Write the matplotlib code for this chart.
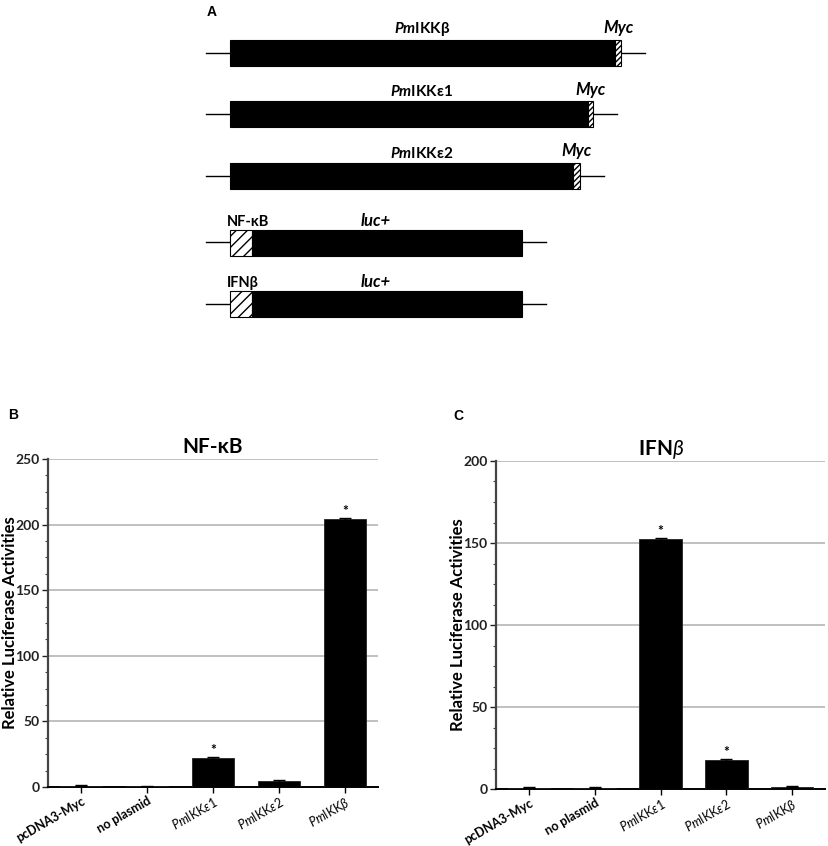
import matplotlib
matplotlib.use('Agg')
import matplotlib.pyplot as plt
from matplotlib.patches import Rectangle
from matplotlib.ticker import MultipleLocator
import numpy as np

plt.rcParams['font.family'] = ['Lato', 'DejaVu Sans']
plt.rcParams['mathtext.fontset'] = 'custom'
plt.rcParams['mathtext.it'] = 'Lato:italic'
plt.rcParams['mathtext.bfit'] = 'Lato:italic:bold'
plt.rcParams['mathtext.rm'] = 'Lato'

# panel A: constructs (lengths in drawing units)
orf_names = [r'$\mathbfit{Pm}$IKKβ', r'$\mathbfit{Pm}$IKKε1', r'$\mathbfit{Pm}$IKKε2']
orf_len = [385, 358, 343]
myc_len = [6, 5, 7]
reporter_names = ['NF-κB', 'IFNβ']
promoter_len = [22, 22]
luc_len = [270, 270]
flank = 24

# panels B and C
groups = ['pcDNA3-Myc', 'no plasmid', r'$\mathit{Pm}$IKK$\varepsilon$1',
          r'$\mathit{Pm}$IKK$\varepsilon$2', r'$\mathit{Pm}$IKK$\beta$']
nfkb_vals = [1.0, 0.4, 22.0, 4.6, 204.0]
nfkb_err = [0.3, 0.3, 0.6, 0.5, 0.7]
nfkb_sig = [False, False, True, False, True]
ifnb_vals = [0.8, 0.8, 152.5, 17.6, 1.5]
ifnb_err = [0.3, 0.3, 0.6, 0.5, 0.3]
ifnb_sig = [False, False, True, True, False]

fig = plt.figure(figsize=(8.29, 8.46), dpi=100)

# ---- panel A ----
axA = fig.add_axes([0, 1 - 340 / 846, 1, 340 / 846])
axA.set_xlim(0, 829)
axA.set_ylim(340, 0)
axA.axis('off')
x0 = 230
row_y = 53
row_gap = 61.5
box_h = 26
for i in range(len(orf_names)):
    y = row_y + i * row_gap
    end = x0 + orf_len[i] + myc_len[i]
    axA.plot([x0 - flank, end + flank], [y, y], color='black', lw=1, zorder=1)
    axA.add_patch(Rectangle((x0, y - box_h / 2), orf_len[i], box_h, fc='black', ec='black', lw=0.8, zorder=2))
    axA.add_patch(Rectangle((x0 + orf_len[i], y - box_h / 2), myc_len[i], box_h, fc='white', ec='black',
                            lw=0.8, hatch='//////', zorder=2))
    axA.text(422, y - box_h / 2 - 2, orf_names[i], ha='center', va='bottom', fontsize=11, fontweight='bold')
    axA.text(x0 + orf_len[i] + myc_len[i] / 2, y - box_h / 2 - 4, 'Myc', ha='center', va='bottom',
             fontsize=12, fontweight='bold', fontstyle='italic')

for j in range(len(reporter_names)):
    y = row_y + (3 + j) * row_gap + 5
    end = x0 + promoter_len[j] + luc_len[j]
    axA.plot([x0 - flank, end + flank], [y, y], color='black', lw=1, zorder=1)
    axA.add_patch(Rectangle((x0, y - box_h / 2), promoter_len[j], box_h, fc='white', ec='black', lw=0.8,
                            hatch='///', zorder=2))
    axA.add_patch(Rectangle((x0 + promoter_len[j], y - box_h / 2), luc_len[j], box_h, fc='black', ec='black',
                            lw=0.8, zorder=2))
    axA.text(x0 - 3, y - box_h / 2 - 1, reporter_names[j], ha='left', va='bottom', fontsize=10.5,
             fontweight='bold')
    axA.text((x0 + end) / 2, y - box_h / 2 - 1, 'luc+', ha='center', va='bottom', fontsize=12,
             fontweight='bold', fontstyle='italic')

fig.text(212 / 829, 1 - 12 / 846, 'A', fontsize=10, fontweight='bold', family='Liberation Sans',
         ha='center', va='center')


def draw_bars(ax, vals, errs, sig, ymax, title):
    x = np.arange(len(groups))
    ax.bar(x, vals, width=0.65, color='black', edgecolor='#222222', lw=0.6, zorder=3)
    ax.errorbar(x, vals, yerr=errs, fmt='none', ecolor='black', elinewidth=1, capsize=4, capthick=1, zorder=4)
    for xi, v, e, s in zip(x, vals, errs, sig):
        if s:
            ax.text(xi, v + e + ymax * 0.004, '*', ha='center', va='bottom', fontsize=10, fontweight='bold')
    ax.set_xlim(-0.5, 4.5)
    ax.set_ylim(0, ymax)
    ax.set_yticks(np.arange(0, ymax + 1, 50))
    ax.yaxis.set_minor_locator(MultipleLocator(12.5))
    ax.yaxis.grid(True, color='#b5b5b5', lw=1.2)
    ax.set_axisbelow(True)
    ax.set_xticks(x)
    ax.set_xticklabels(groups, rotation=30, ha='right', rotation_mode='anchor')
    for lab in ax.get_xticklabels()[:2]:
        lab.set_fontweight('bold')
    for sp in ['top', 'right']:
        ax.spines[sp].set_visible(False)
    ax.spines['left'].set_color('#444444')
    ax.spines['left'].set_linewidth(1.6)
    ax.spines['bottom'].set_color('black')
    ax.spines['bottom'].set_linewidth(1.4)
    ax.tick_params(axis='y', which='major', length=4, width=1, labelsize=10, colors='#222222', pad=2)
    ax.tick_params(axis='y', which='minor', length=2, width=0.8, color='#444444')
    ax.tick_params(axis='x', length=4, width=1, labelsize=9, pad=1.5)
    for lab in ax.get_yticklabels():
        lab.set_fontweight('bold')
    ax.set_title(title, fontsize=15, fontweight='bold', pad=4)
    ax.set_ylabel('Relative Luciferase Activities', fontsize=12, fontweight='bold')


axB = fig.add_axes([48 / 829, 1 - 787 / 846, 330 / 829, 328 / 846])
draw_bars(axB, nfkb_vals, nfkb_err, nfkb_sig, 250, 'NF-κB')
axB.yaxis.set_label_coords(-0.092, 0.5)

axC = fig.add_axes([496 / 829, 1 - 789 / 846, 329 / 829, 328 / 846])
draw_bars(axC, ifnb_vals, ifnb_err, ifnb_sig, 200, r'IFN$\beta$')
axC.yaxis.set_label_coords(-0.092, 0.5)

fig.text(13 / 829, 1 - 415 / 846, 'B', fontsize=10, fontweight='bold', family='Liberation Sans',
         ha='center', va='center')
fig.text(458 / 829, 1 - 416 / 846, 'C', fontsize=10, fontweight='bold', family='Liberation Sans',
         ha='center', va='center')

fig.savefig('out.png', dpi=100)
